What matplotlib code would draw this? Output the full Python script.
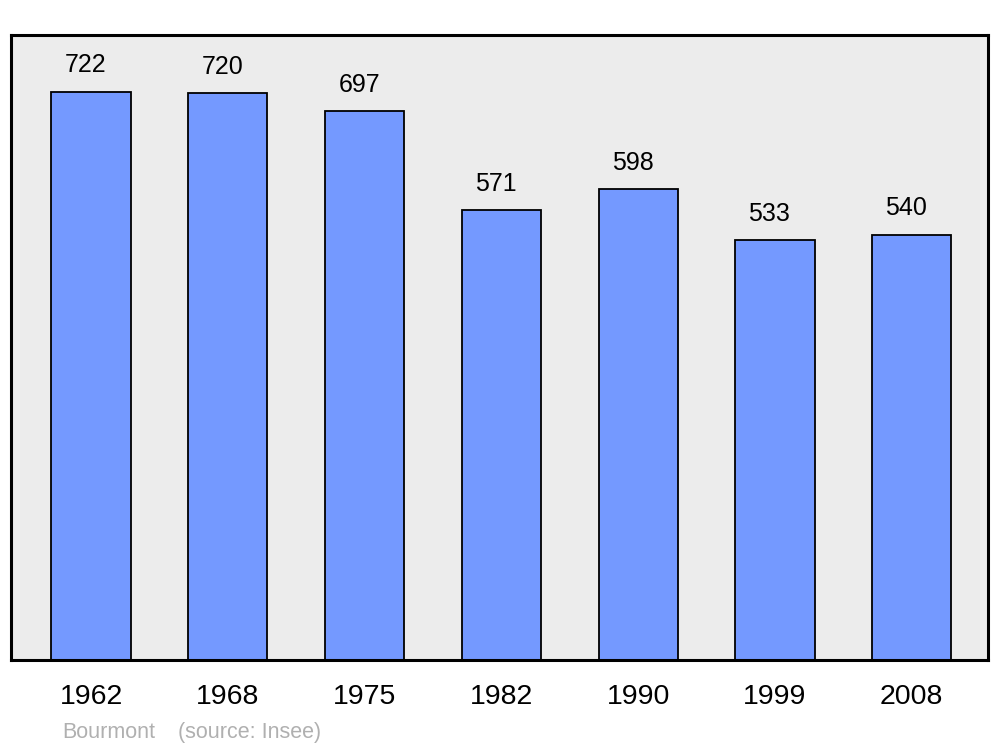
import numpy as np
import matplotlib.pyplot as plt

plt.rcParams['font.family'] = ['Liberation Sans', 'DejaVu Sans']

# population data
annees = ['1962', '1968', '1975', '1982', '1990', '1999', '2008']
population = [722, 720, 697, 571, 598, 533, 540]

fig = plt.figure(figsize=(10, 7.47), dpi=100)
ax = fig.add_axes([0.011, 0.1165, 0.977, 0.8367])
ax.set_facecolor('#ececec')

x = np.arange(len(annees))
ax.bar(x, population, width=0.578, color='#7499ff', edgecolor='black', linewidth=1.3, zorder=2)

for xi, v in zip(x, population):
    ax.annotate(str(v), (xi, v), xytext=(-4, 10.5), textcoords='offset points',
                ha='center', va='bottom', fontsize=18)

ax.set_xlim(-0.585, 6.557)
ax.set_ylim(0, 794)
ax.set_xticks(x)
ax.set_xticklabels(annees, fontsize=20.5)
ax.tick_params(axis='x', length=0, pad=17.5)
ax.set_yticks([])

for s in ax.spines.values():
    s.set_linewidth(2.2)

fig.text(0.062, 0.02, 'Bourmont', color='#b0b0b0', fontsize=15.5, va='center')
fig.text(0.178, 0.02, '(source: Insee)', color='#b0b0b0', fontsize=15.5, va='center')

fig.savefig('out.png', dpi=100)
